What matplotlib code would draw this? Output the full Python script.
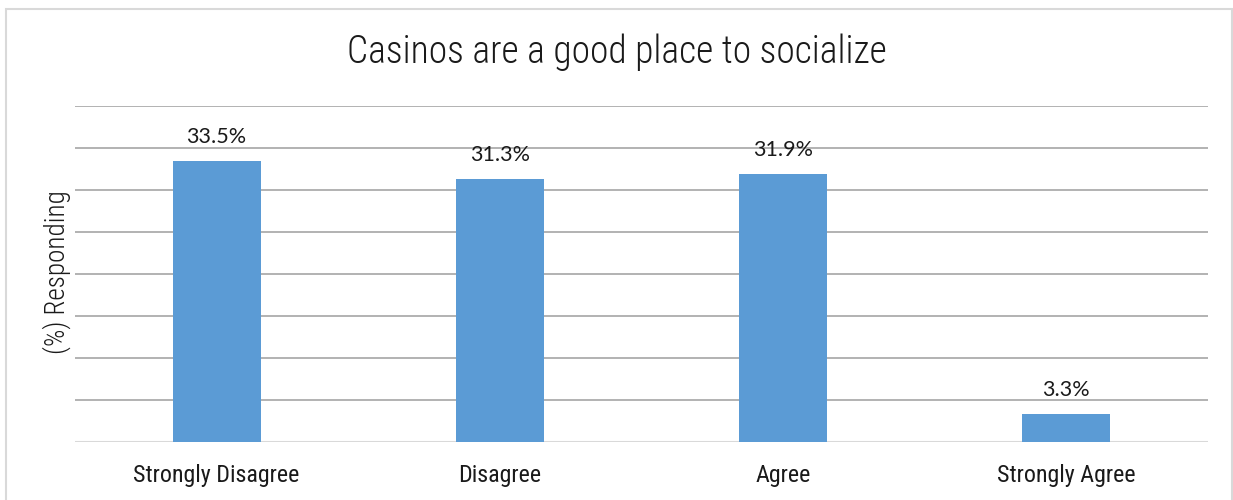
import matplotlib
matplotlib.use("Agg")
import matplotlib.pyplot as plt
from matplotlib.patches import Rectangle

categories = ["Strongly Disagree", "Disagree", "Agree", "Strongly Agree"]
values = [33.5, 31.3, 31.9, 3.3]
labels = ["33.5%", "31.3%", "31.9%", "3.3%"]

fig = plt.figure(figsize=(12.33, 5.0), dpi=100)
fig.patches.append(Rectangle((6/1233, -0.01), 1 - 6/1233 - 0.0005, 1 - 9/500 + 0.01,
                             transform=fig.transFigure, fill=False,
                             edgecolor="#d9d9d9", linewidth=1.5))
ax = fig.add_axes([75/1233, 58/500, 1133/1233, 336/500])
x = range(len(categories))
ax.bar(x, values, width=0.31, color="#5b9bd5", zorder=3)
ax.set_xlim(-0.5, len(categories) - 0.5)
ax.set_ylim(0, 40)
for yv in range(5, 45, 5):
    ax.axhline(yv, color="#a6a6a6", linewidth=1.2, zorder=1)
ax.axhline(0, color="#d9d9d9", linewidth=1.5, zorder=2)
for s in ax.spines.values():
    s.set_visible(False)
ax.set_yticks([])
ax.set_xticks(list(x))
ax.set_xticklabels(categories, fontsize=17.3, family="Roboto Condensed", color="#1a1a1a")
ax.tick_params(axis="x", length=0, pad=16)
for xi, v, lab in zip(x, values, labels):
    ax.annotate(lab, (xi, v), xytext=(0, 10), textcoords="offset points",
                ha="center", va="bottom", fontsize=15.5, family="Lato", color="#1a1a1a")
fig.text(57/1233, 1 - 272/500, "(%) Responding", rotation=90, ha="center", va="center",
         fontsize=19.5, family="Roboto Condensed", fontweight=300, color="#1a1a1a")
fig.text(0.5, 1 - 63/500, "Casinos are a good place to socialize", ha="center", va="baseline",
         fontsize=27, family="Roboto Condensed", fontweight=300, color="#1a1a1a")
fig.savefig("out.png", dpi=100)
